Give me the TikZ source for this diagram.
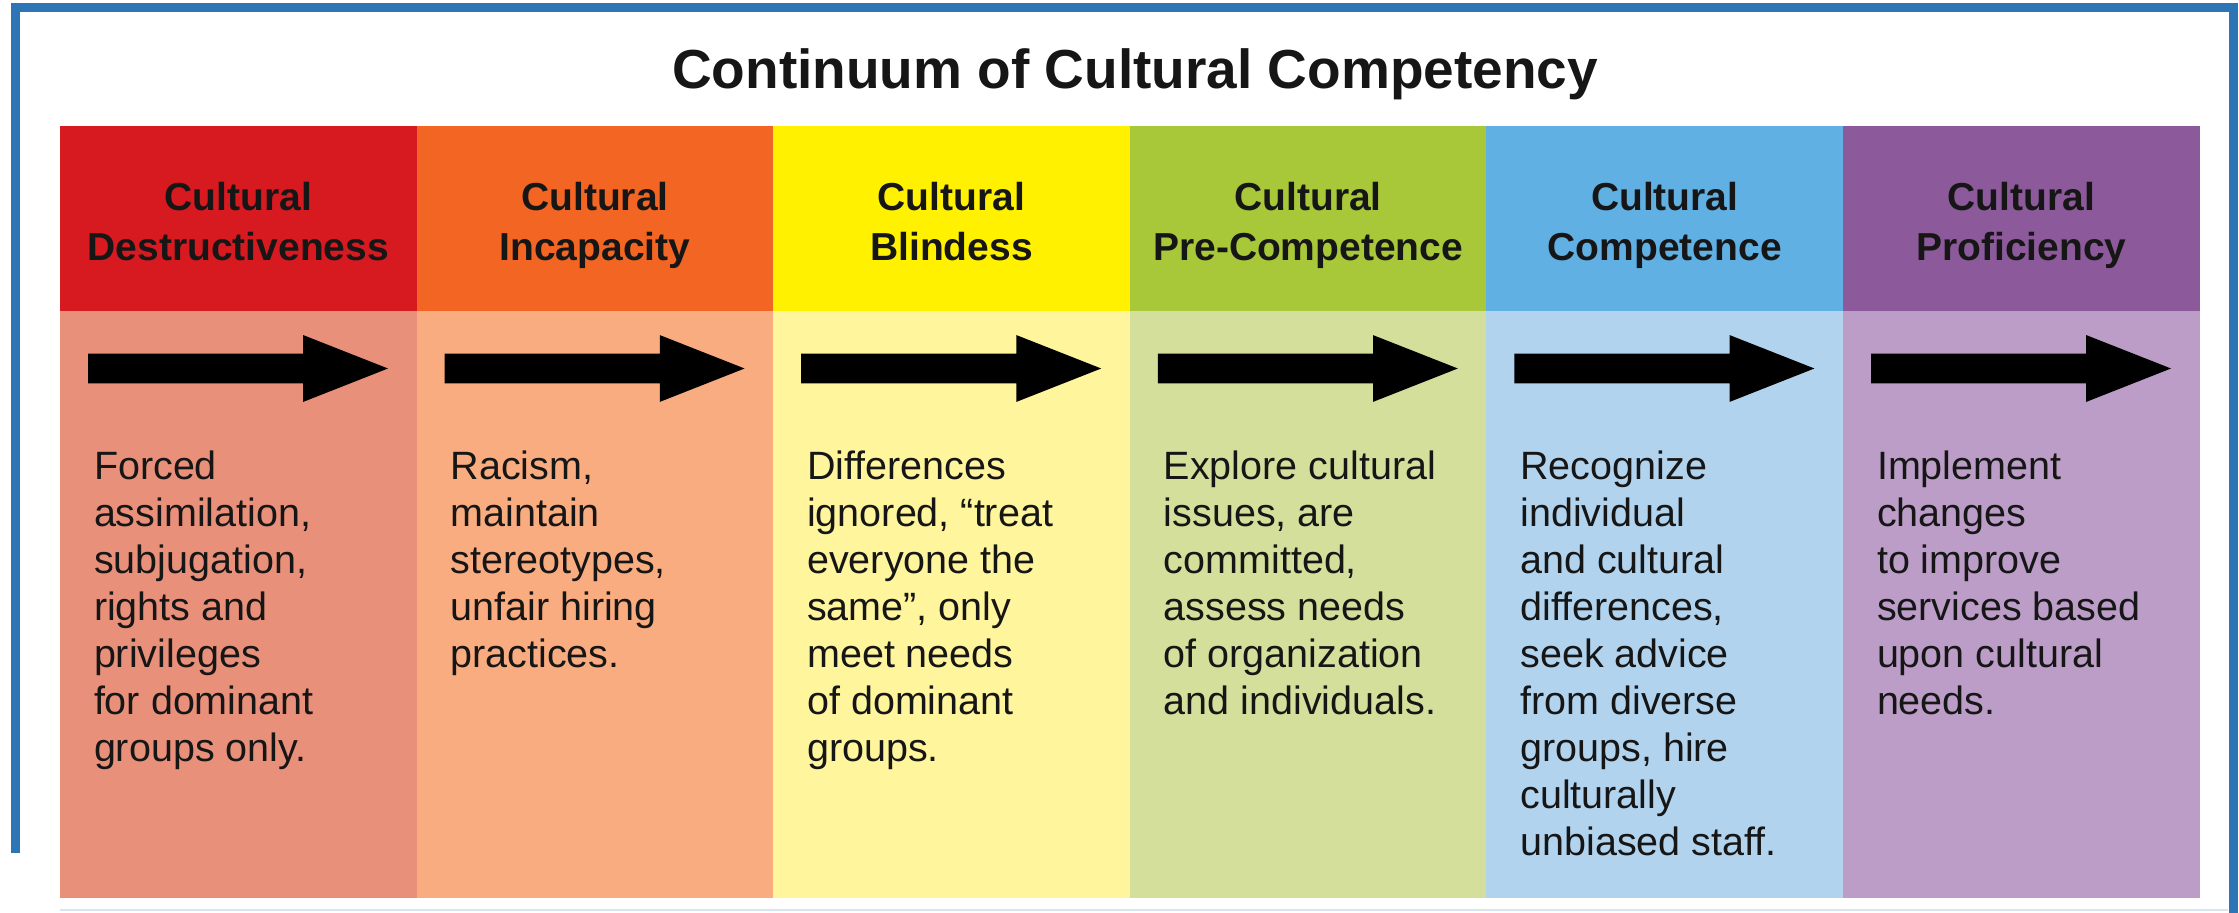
\documentclass[tikz,border=0pt]{standalone}
\usepackage{fontspec}
\setmainfont{Liberation Sans}
\usetikzlibrary{positioning, shapes.arrows}

\definecolor{frameBlue}{HTML}{2E75B6}
\definecolor{rule}{HTML}{D8E4EE}
\definecolor{ink}{HTML}{161616}
\definecolor{destrHead}{HTML}{D71920}
\definecolor{incapHead}{HTML}{F26522}
\definecolor{blindHead}{HTML}{FFF100}
\definecolor{preHead}{HTML}{A8C83A}
\definecolor{compHead}{HTML}{60B0E3}
\definecolor{profHead}{HTML}{8C5A9B}
\definecolor{destrBody}{HTML}{E8907A}
\definecolor{incapBody}{HTML}{F9AC7F}
\definecolor{blindBody}{HTML}{FFF59D}
\definecolor{preBody}{HTML}{D4DF9B}
\definecolor{compBody}{HTML}{B2D3EE}
\definecolor{profBody}{HTML}{BB9DC7}

\begin{document}
\begin{tikzpicture}[x=0.5pt, y=-0.5pt, node distance=0pt]
    \tikzstyle{every node}=[inner sep=0pt, outer sep=0pt]
    \tikzstyle{title}=[text=ink, font=\bfseries\fontsize{27.5}{33}\selectfont]
    \tikzstyle{head}=[minimum width=178.3pt, minimum height=92.5pt, align=center, text=ink, text height=42pt, text depth=0pt, font=\bfseries\fontsize{19.5}{25}\selectfont]
    \tikzstyle{body}=[minimum width=178.3pt, minimum height=293.5pt]
    \tikzstyle{desc}=[align=left, text=ink, font=\fontsize{19.75}{23.5}\selectfont]
    \tikzstyle{flow}=[single arrow, fill=black, minimum height=150pt, minimum width=1pt, inner xsep=0pt, inner ysep=7.25pt, single arrow head extend=9.25pt, single arrow tip angle=43]
    \tikzstyle{frame}=[draw=frameBlue, line width=4.5pt]

    \useasboundingbox[fill=white] (0,0) rectangle (2239,913);

    \node[title] (title) at (1135,74) {Continuum of Cultural Competency};

    \node[head, fill=destrHead, anchor=north west] (h1) at (60,126) {Cultural\\Destructiveness};
    \node[head, fill=incapHead, right=of h1] (h2) {Cultural\\Incapacity};
    \node[head, fill=blindHead, right=of h2] (h3) {Cultural\\Blindess};
    \node[head, fill=preHead, right=of h3] (h4) {Cultural\\Pre-Competence};
    \node[head, fill=compHead, right=of h4] (h5) {Cultural\\Competence};
    \node[head, fill=profHead, right=of h5] (h6) {Cultural\\Proficiency};

    \node[body, fill=destrBody, below=of h1] (b1) {};
    \node[body, fill=incapBody, below=of h2] (b2) {};
    \node[body, fill=blindBody, below=of h3] (b3) {};
    \node[body, fill=preBody, below=of h4] (b4) {};
    \node[body, fill=compBody, below=of h5] (b5) {};
    \node[body, fill=profBody, below=of h6] (b6) {};

    \node[flow, below right=28.75pt and 14pt of b1.north west, anchor=tail] (a1) {};
    \node[flow, below right=28.75pt and 14pt of b2.north west, anchor=tail] (a2) {};
    \node[flow, below right=28.75pt and 14pt of b3.north west, anchor=tail] (a3) {};
    \node[flow, below right=28.75pt and 14pt of b4.north west, anchor=tail] (a4) {};
    \node[flow, below right=28.75pt and 14pt of b5.north west, anchor=tail] (a5) {};
    \node[flow, below right=28.75pt and 14pt of b6.north west, anchor=tail] (a6) {};

    \node[desc, below right=70pt and 17pt of b1.north west] (d1) {Forced\\assimilation,\\subjugation,\\rights and\\privileges\\for dominant\\groups only.};
    \node[desc, below right=70pt and 17pt of b2.north west] (d2) {Racism,\\maintain\\stereotypes,\\unfair hiring\\practices.};
    \node[desc, below right=70pt and 17pt of b3.north west] (d3) {Differences\\ignored, “treat\\everyone the\\same”, only\\meet needs\\of dominant\\groups.};
    \node[desc, below right=70pt and 17pt of b4.north west] (d4) {Explore cultural\\issues, are\\committed,\\assess needs\\of organization\\and individuals.};
    \node[desc, below right=70pt and 17pt of b5.north west] (d5) {Recognize\\individual\\and cultural\\differences,\\seek advice\\from diverse\\groups, hire\\culturally\\unbiased staff.};
    \node[desc, below right=70pt and 17pt of b6.north west] (d6) {Implement\\changes\\to improve\\services based\\upon cultural\\needs.};

    \draw[frame] (15,853) -- (15,7.5) -- (2233.5,7.5) -- (2233.5,913);
    \draw[rule, line width=1pt] (60,910) -- (2228,910);
\end{tikzpicture}
\end{document}
